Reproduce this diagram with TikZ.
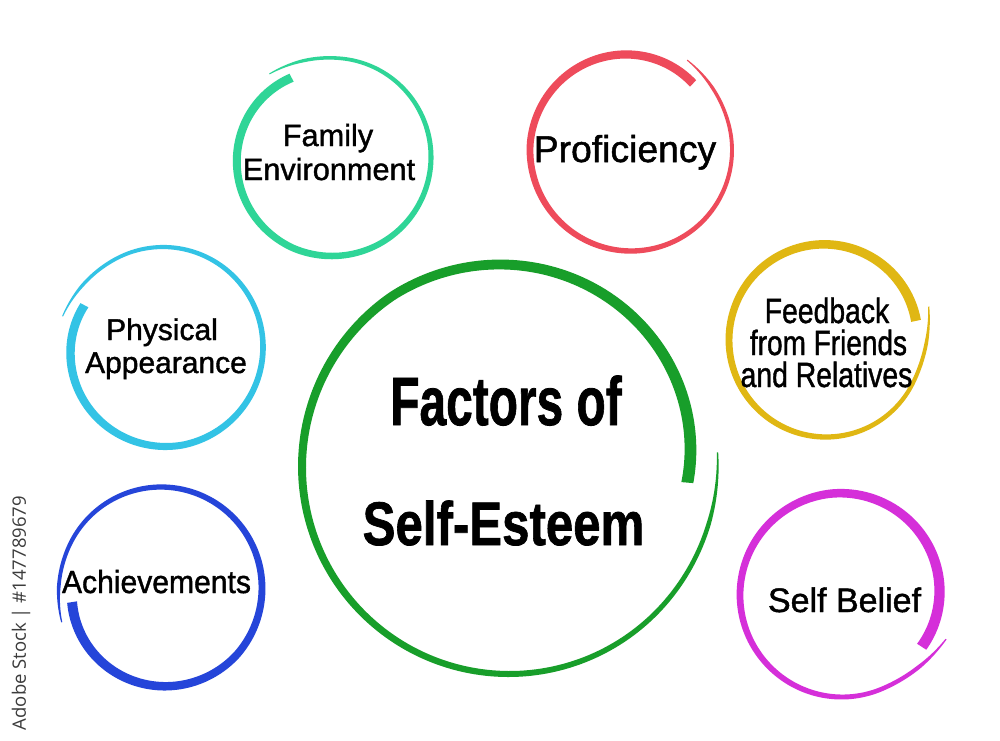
\documentclass[tikz,border=0pt]{standalone}
\usepackage{fontspec}
\setmainfont{Liberation Sans}
\newfontfamily\medfont[FakeBold=1.3]{Liberation Sans}
\newfontfamily\heavyfont[FakeBold=1.2]{Liberation Sans}
\newfontfamily\wmfont{Open Sans}
\usepackage{graphicx}
\definecolor{cGreen}{HTML}{189E2A}
\definecolor{cTeal}{HTML}{2FD597}
\definecolor{cRed}{HTML}{EE4B5B}
\definecolor{cCyan}{HTML}{33C3E5}
\definecolor{cYellow}{HTML}{E0B713}
\definecolor{cBlue}{HTML}{2545D9}
\definecolor{cMagenta}{HTML}{D52FD9}
\definecolor{wmgray}{HTML}{3C3C3C}
% #1 colour, #2 centre x, #3 centre y, #4 radius, #5 start angle, #6 end angle,
% #7 outward drift at start, #8 inward drift at end, #9 end width
\newcommand\brushring[9]{%
 \begin{scope}[shift={(#2,#3)},
   declare function={
     ff(\x)=(\x-(#5))/((#6)-(#5));
     gg(\x)=max(0,(ff(\x)-0.65)/0.35);
     hh(\x)=max(0,1-ff(\x)/0.12);
     rr(\x)=#4+#7*hh(\x)*hh(\x)-#8*(0.5*gg(\x)+0.5*gg(\x)*gg(\x));
     ww(\x)=(0.33*#9+0.67*#9*ff(\x))*min(1,0.35+12*ff(\x));
   }]
  \fill[#1] plot[domain=#5:#6,samples=240,variable=\t] ({\t}:{rr(\t)+0.5*ww(\t)})
     -- plot[domain=#6:#5,samples=240,variable=\t] ({\t}:{rr(\t)-0.5*ww(\t)}) -- cycle;
 \end{scope}}
\begin{document}
\begin{tikzpicture}[x=1pt,y=-1pt,
  txt/.style={anchor=base,inner sep=0pt,text=black}]
\useasboundingbox (0,0) rectangle (1000,740);
\fill[white] (0,0) rectangle (1000,740);
% rings
\brushring{cGreen}{509}{467}{207}{-4}{365}{2}{28}{12}
\brushring{cTeal}{332}{157}{99}{233}{603}{5}{10}{9}
\brushring{cRed}{631}{150}{101}{302}{673}{5}{10}{9}
\brushring{cCyan}{163}{347}{100}{197}{568}{5}{11}{9}
\brushring{cYellow}{826}{340}{97}{342}{708}{11}{5}{10}
\brushring{cMagenta}{842}{595}{102}{23}{393}{11}{7}{11}
\brushring{cBlue}{161}{588}{101}{161}{531}{4}{11}{10}
% central text
\node[txt,font=\heavyfont\fontsize{68.4}{68.4}\selectfont\bfseries] (t1) at (506,425) {\scalebox{0.70}[1]{Factors of}};
\node[txt,font=\heavyfont\fontsize{61.5}{61.5}\selectfont\bfseries] (t2) at (503.5,545) {\scalebox{0.80}[1]{Self-Esteem}};
% satellite texts
\node[txt,font=\medfont\fontsize{30.7}{30.7}\selectfont] (fam1) at (328,146) {Family};
\node[txt,font=\medfont\fontsize{30.7}{30.7}\selectfont] (fam2) at (329,180) {Environment};
\node[txt,font=\medfont\fontsize{37.3}{37.3}\selectfont] (prof) at (625,162) {Proficiency};
\node[txt,font=\medfont\fontsize{30}{30}\selectfont] (phy1) at (162,340) {Physical};
\node[txt,font=\medfont\fontsize{30}{30}\selectfont] (phy2) at (166,373) {Appearance};
\node[txt,font=\medfont\fontsize{35}{35}\selectfont] (fb1) at (827,323) {\scalebox{0.81}[1]{Feedback}};
\node[txt,font=\medfont\fontsize{35}{35}\selectfont] (fb2) at (828.5,355) {\scalebox{0.80}[1]{from Friends}};
\node[txt,font=\medfont\fontsize{35}{35}\selectfont] (fb3) at (826.5,387) {\scalebox{0.81}[1]{and Relatives}};
\node[txt,font=\medfont\fontsize{32}{32}\selectfont] (ach) at (156.5,593) {\scalebox{0.94}[1]{Achievements}};
\node[txt,font=\medfont\fontsize{34}{34}\selectfont] (sb) at (844.5,612) {Self Belief};
% watermark
\node[anchor=center,rotate=90,inner sep=0pt,text=wmgray,font=\wmfont\fontsize{18.5}{18.5}\selectfont] (wm) at (21,613) {Adobe Stock | \#147789679};
\end{tikzpicture}
\end{document}
